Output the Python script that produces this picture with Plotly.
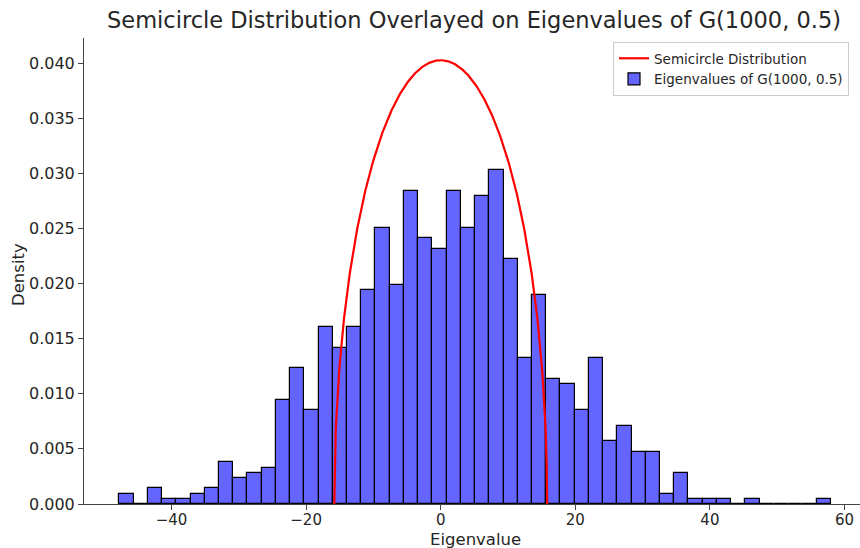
import numpy as np
import plotly.graph_objects as go

# Histogram of eigenvalues (1000 values, 50 bins, density-normalised)
bin_min = -47.74
bin_max = 57.95
n_bins = 50
counts = [2, 0, 3, 1, 1, 2, 3, 8, 5, 6,
          7, 20, 26, 18, 34, 30, 34, 41, 53, 42,
          60, 51, 49, 60, 53, 59, 64, 47, 28, 40,
          24, 23, 18, 28, 12, 15, 10, 10, 2, 6,
          1, 1, 1, 0, 1, 0, 0, 0, 0, 1]
n_eigs = 1000

# Semicircle law parameter: radius R = sqrt(n p (1-p)) for G(1000, 0.5)
n_nodes = 1000
p_edge = 0.5

x_ticks = [-40, -20, 0, 20, 40, 60]
y_ticks = [0.0, 0.005, 0.010, 0.015, 0.020, 0.025, 0.030, 0.035, 0.040]

width = (bin_max - bin_min) / n_bins
edges = np.linspace(bin_min, bin_max, n_bins + 1)
centers = (edges[:-1] + edges[1:]) / 2
density = np.array(counts) / (n_eigs * width)

R = np.sqrt(n_nodes * p_edge * (1 - p_edge))
xs = np.linspace(-R, R, 600)
ys = 2 / (np.pi * R ** 2) * np.sqrt(np.clip(R ** 2 - xs ** 2, 0, None))

fig = go.Figure()
fig.add_trace(go.Bar(
    x=centers, y=density, width=width,
    marker=dict(color="rgba(100,100,255,1)", line=dict(color="black", width=1.2)),
    name="Eigenvalues of G(1000, 0.5)", legendrank=2,
))
fig.add_trace(go.Scatter(
    x=xs, y=ys, mode="lines", line=dict(color="red", width=2.2),
    name="Semicircle Distribution", legendrank=1,
))

axis_common = dict(
    showgrid=False, zeroline=False, showline=True, linecolor="#444", linewidth=1,
    ticks="outside", ticklen=5, tickcolor="#444", tickwidth=1, automargin=False,
)
txt = dict(family="DejaVu Sans", size=16.5, color="#262626")
fig.update_layout(
    width=860, height=548,
    margin=dict(l=84, r=0, t=38, b=44, autoexpand=False),
    plot_bgcolor="white", paper_bgcolor="white",
    bargap=0,
    title=dict(text="Semicircle Distribution Overlayed on Eigenvalues of G(1000, 0.5)",
               x=474 / 860, xref="container", xanchor="center",
               y=1 - 20 / 548, yref="container", yanchor="middle", automargin=False,
               font=dict(family="DejaVu Sans", size=22.5, color="#262626")),
    xaxis=dict(range=[-53.0, 62.3], tickvals=x_ticks, ticklabelstandoff=-3,
               tickfont=dict(family="DejaVu Sans", size=15, color="#262626"),
               **axis_common),
    yaxis=dict(range=[0, 0.04228], tickvals=y_ticks, tickformat=".3f",
               tickfont=dict(family="DejaVu Sans", size=16, color="#262626"),
               **axis_common),
    annotations=[
        dict(text="Eigenvalue", xref="paper", yref="paper", x=(475 - 84) / 776,
             y=-(539 - 504) / 466, xanchor="center", yanchor="middle",
             showarrow=False, font=txt),
        dict(text="Density", xref="paper", yref="paper", x=-(84 - 18) / 776,
             y=(504 - 275) / 466, xanchor="center", yanchor="middle",
             textangle=-90, showarrow=False, font=txt),
    ],
    legend=dict(x=(613 - 84) / 776, xanchor="left", y=(504 - 42) / 466, yanchor="top",
                bgcolor="rgba(255,255,255,0.8)", bordercolor="#cccccc", borderwidth=1,
                font=dict(family="DejaVu Sans", size=13.5, color="#262626"),
                tracegroupgap=0),
    showlegend=True,
)

fig.write_html("out.html", config={"displayModeBar": False},
               post_script="document.body.style.margin='0';document.body.style.padding='0';")
